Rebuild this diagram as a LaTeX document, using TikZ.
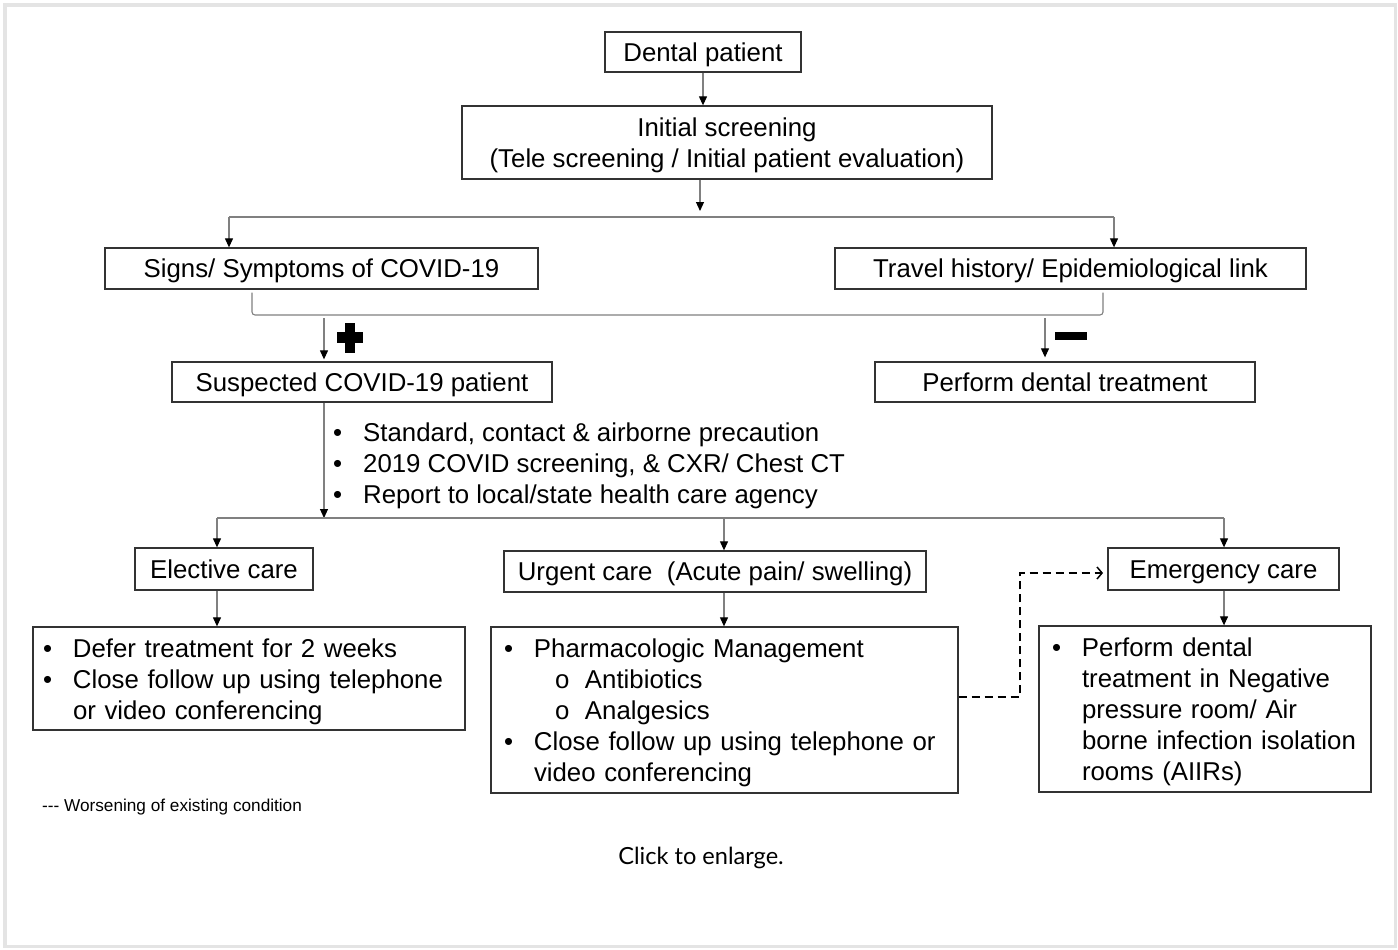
\documentclass[tikz,border=0pt]{standalone}
\usepackage{fontspec}
\setmainfont{Liberation Sans}
\newfontfamily\latofont{Lato}
\usetikzlibrary{arrows.meta,calc}
\definecolor{boxcol}{HTML}{333333}
\definecolor{conncol}{HTML}{808080}
\definecolor{framecol}{HTML}{E4E4E4}
\newcommand{\mfs}{\fontsize{25.8}{31}\selectfont}
\newcommand{\bl}{\makebox[30pt][l]{\textbullet}}
\newcommand{\sbl}{\hspace*{51pt}\makebox[30pt][l]{o}}
\newcommand{\ind}{\hspace*{30pt}}
\newcommand{\tstrut}{\rule{0pt}{24.8pt}}
\begin{document}
\begin{tikzpicture}[x=1pt,y=-1pt,
  box/.style={draw=boxcol,line width=1.3pt,inner sep=0pt,font=\mfs,align=center,text height=24pt,text depth=5.4pt},
  mbox/.style={draw=boxcol,line width=1.3pt,inner sep=0pt,font=\mfs,align=center},
  listbox/.style={draw=boxcol,line width=1.3pt,inner ysep=0pt,font=\mfs,align=left},
  conn/.style={draw=conncol,line width=1.1pt},
  arr/.style={conn,-{Triangle[length=9pt,width=8pt,color=black]}},
  dasharr/.style={draw=black,line width=1.5pt,dash pattern=on 8pt off 5pt,-{Straight Barb[length=5pt,width=12pt]}}]
\useasboundingbox (0,0) rectangle (1398,950);
\draw[framecol,line width=3.5pt] (5,5) rectangle (1395.5,946.5);

% boxes
\node[box,minimum width=196pt,minimum height=40pt] (dental) at (703,52) {Dental patient};
\node[mbox,minimum width=530pt,minimum height=73pt] (init) at (727,142.5) {\tstrut Initial screening\\(Tele screening / Initial patient evaluation)};
\node[box,minimum width=433pt,minimum height=41pt] (signs) at (321.5,268.5) {Signs/ Symptoms of COVID-19};
\node[box,minimum width=471pt,minimum height=41pt] (travel) at (1070.5,268.5) {Travel history/ Epidemiological link};
\node[box,minimum width=380pt,minimum height=40pt] (susp) at (362,382) {Suspected COVID-19 patient};
\node[box,minimum width=380pt,minimum height=40pt] (perf) at (1065,382) {Perform dental treatment};
\node[font=\mfs,align=left,anchor=west,inner sep=0pt] (prec) at (333,463)
  {\tstrut\bl Standard, contact \& airborne precaution\\ \bl 2019 COVID screening, \& CXR/ Chest CT\\ \bl Report to local/state health care agency};
\node[box,minimum width=178pt,minimum height=42pt] (elect) at (224,569) {Elective care};
\node[box,minimum width=422pt,minimum height=41pt] (urg) at (715,571.5) {Urgent care\ \ (Acute pain/ swelling)};
\node[box,minimum width=231pt,minimum height=42pt] (emc) at (1223.5,569) {Emergency care};
\node[listbox,text width=412pt,inner xsep=10pt,minimum height=103pt] (defer) at (249,678.5)
  {\tstrut\bl Defer treatment for 2 weeks\\ \bl Close follow up using telephone\\ \ind or video conferencing};
\node[listbox,text width=441pt,inner xsep=13pt,minimum height=166pt] (pharma) at (724.5,710)
  {\tstrut\bl Pharmacologic Management\\ \sbl Antibiotics\\ \sbl Analgesics\\ \bl Close follow up using telephone or\\ \ind video conferencing};
\node[listbox,text width=306pt,inner xsep=13pt,minimum height=166pt] (emdet) at (1205,709)
  {\tstrut\bl Perform dental\\ \ind treatment in Negative\\ \ind pressure room/ Air\\ \ind borne infection isolation\\ \ind rooms (AIIRs)};

% connectors
\draw[arr] (dental.south) -- (dental.south |- init.north);
\coordinate (s1top) at (700,211);
\coordinate (s1L) at (229,217);
\coordinate (s1R) at (1114,217);
\draw[arr] (init.south -| s1top) -- (s1top);
\draw[conn] (s1L) -- (s1R);
\draw[arr] (s1L) -- (s1L |- signs.north);
\draw[arr] (s1R) -- (s1R |- travel.north);

\coordinate (brL) at (252,315);
\coordinate (brR) at (1103,315);
\draw[conn,rounded corners=3pt] ($(brL |- signs.south)+(0,3)$) -- (brL) -- (brR) -- ($(brR |- travel.south)+(0,3)$);

\coordinate (pa) at (324,318);
\draw[arr,shorten >=2pt] (pa) -- (pa |- susp.north);
\fill (345,323) rectangle (355,353);
\fill (337,332) rectangle (363,343);

\coordinate (ma) at (1045,318);
\draw[arr,shorten >=4pt] (ma) -- (ma |- perf.north);
\fill (1055,332) rectangle (1087,340);

\coordinate (s2) at (324,518);
\coordinate (s2L) at (217,518);
\coordinate (s2M) at (724,518);
\coordinate (s2R) at (1224,518);
\draw[arr] (susp.south -| s2) -- (s2);
\draw[conn] (s2L) -- (s2R);
\draw[arr] (s2L) -- (s2L |- elect.north);
\draw[arr] (s2M) -- (s2M |- urg.north);
\draw[arr] (s2R) -- (s2R |- emc.north);
\draw[arr] (elect.south -| s2L) -- (defer.north -| s2L);
\draw[arr] (urg.south -| s2M) -- (pharma.north -| s2M);
\draw[arr] (emc.south -| s2R) -- (emdet.north -| s2R);

\coordinate (dk1) at (1020,697);
\coordinate (dk2) at (1020,573);
\coordinate (dk3) at (1103,573);
\draw[dasharr] (pharma.east |- dk1) -- (dk1) -- (dk2) -- (dk3);

% notes
\node[anchor=west,font=\fontsize{17.2}{20}\selectfont,inner sep=0pt] (note) at (42,807) {-{}-{}- Worsening of existing condition};
\node[font=\latofont\fontsize{23.6}{28}\selectfont,inner sep=0pt] (click) at (701,858) {Click to enlarge.};
\end{tikzpicture}
\end{document}
